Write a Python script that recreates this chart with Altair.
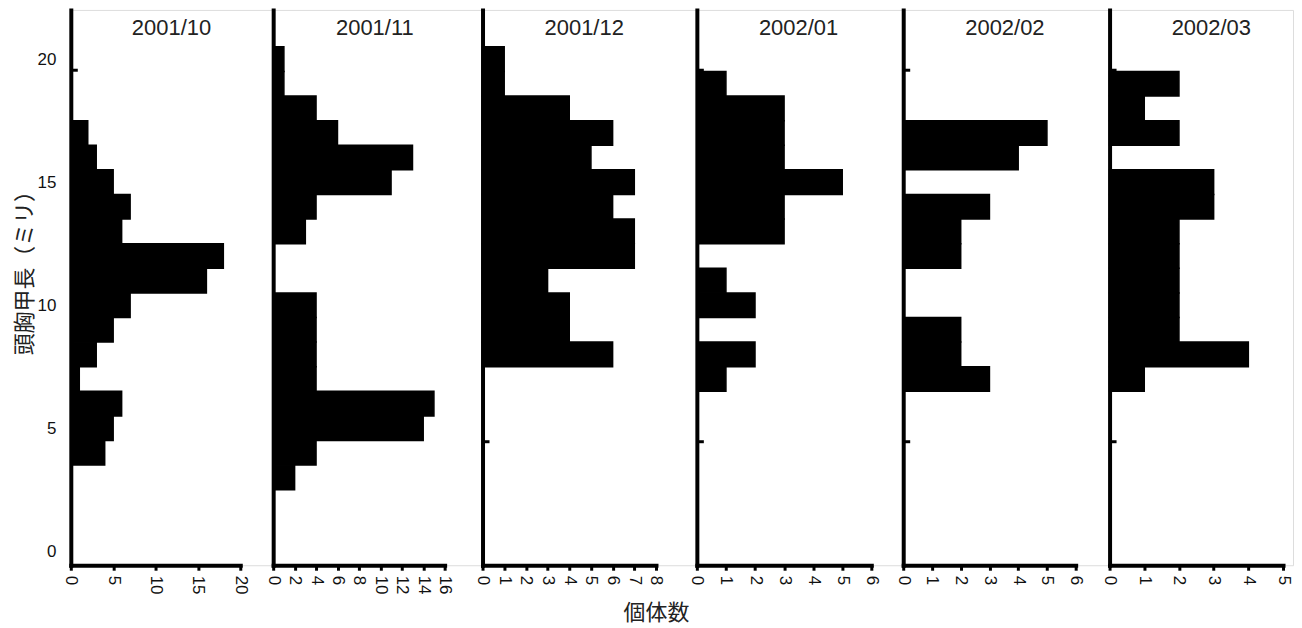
import altair as alt
import pandas as pd

# ---------------- data ----------------
months = ["2001/10", "2001/11", "2001/12", "2002/01", "2002/02", "2002/03"]
sizes = [20, 19, 18, 17, 16, 15, 14, 13, 12, 11, 10, 9, 8, 7, 6, 5, 4, 3]
count_2001_10 = [0, 0, 0, 2, 3, 5, 7, 6, 18, 16, 7, 5, 3, 1, 6, 5, 4, 0]
count_2001_11 = [1, 1, 4, 6, 13, 11, 4, 3, 0, 0, 4, 4, 4, 4, 15, 14, 4, 2]
count_2001_12 = [1, 1, 4, 6, 5, 7, 6, 7, 7, 3, 4, 4, 6, 0, 0, 0, 0, 0]
count_2002_01 = [0, 1, 3, 3, 3, 5, 3, 3, 0, 1, 2, 0, 2, 1, 0, 0, 0, 0]
count_2002_02 = [0, 0, 0, 5, 4, 0, 3, 2, 2, 0, 0, 2, 2, 3, 0, 0, 0, 0]
count_2002_03 = [0, 2, 1, 2, 0, 3, 3, 2, 2, 2, 2, 2, 4, 1, 0, 0, 0, 0]
counts = [count_2001_10, count_2001_11, count_2001_12,
          count_2002_01, count_2002_02, count_2002_03]
x_max = [20, 16, 8, 6, 6, 5]
x_step = [5, 2, 1, 1, 1, 1]
y_ticks = [0, 5, 10, 15, 20]
stub_sizes = [19.55, 4.45]
y_title = "頭胸甲長（ミリ）"
x_title = "個体数"

# ---------------- layout / style ----------------
axis_len = [170, 172, 174, 175, 173, 174]
cell_w = [203, 210, 215, 207, 207, 184]
H = 557
NUM_FONT = "Liberation Sans Narrow, Liberation Sans, Arial"
TXT_FONT = "Liberation Sans, Arial"
JP_FONT = "Noto Sans CJK JP"
y_scale = alt.Scale(domain=[-0.57, 22.0], nice=False, zero=False)


def panel(i):
    df = pd.DataFrame({"size": sizes, "count": counts[i]})
    df = df[df["count"] > 0]
    xs = alt.Scale(domain=[0, x_max[i]], range=[0, axis_len[i]], nice=False, zero=True)

    x_axis_kw = dict(
        values=list(range(0, x_max[i] + 1, x_step[i])),
        labelAngle=90, labelAlign="left", labelBaseline="middle",
        labelFont=NUM_FONT, labelFontSize=17, labelColor="#111",
        labelPadding=5, tickSize=5, tickWidth=3, tickColor="black",
        domainWidth=4, domainColor="black", domainCap="square",
        grid=False, labelOverlap=False,
    )
    if i == 3:
        x_axis_kw.update(title=x_title, titleX=-41, titleY=47, titleAlign="center",
                         titleBaseline="middle", titleAngle=0, titleFont=JP_FONT,
                         titleFontSize=22, titleFontWeight="normal", titleColor="#222")
    else:
        x_axis_kw.update(title=None)

    if i == 0:
        y_axis = alt.Axis(values=y_ticks, ticks=False, labelPadding=15,
                          labelFont=NUM_FONT, labelFontSize=17, labelColor="#111",
                          domainWidth=4, domainColor="black", domainCap="square",
                          grid=False, title=y_title, titleX=-46, titleY=258,
                          titleAngle=270, titleAlign="center", titleBaseline="middle",
                          titleFont=JP_FONT, titleFontSize=22, titleFontWeight="normal",
                          titleColor="#222")
    else:
        y_axis = alt.Axis(values=y_ticks, ticks=False, labels=False, title=None,
                          domainWidth=4, domainColor="black", domainCap="square",
                          grid=False)

    bars = alt.Chart(df).transform_calculate(
        lo="datum.size - 0.5", hi="datum.size + 0.5"
    ).mark_bar(fill="black", stroke="black", strokeWidth=1.5,
               strokeOpacity=1, fillOpacity=1, opacity=1).encode(
        x=alt.X("count:Q", scale=xs, axis=alt.Axis(**x_axis_kw)),
        x2=alt.datum(0),
        y=alt.Y("lo:Q", scale=y_scale, axis=y_axis),
        y2="hi:Q",
    )

    stubs = alt.Chart(pd.DataFrame({"s": stub_sizes})).mark_rule(
        color="black", strokeWidth=3
    ).encode(
        y=alt.Y("s:Q", scale=y_scale),
        x=alt.value(0),
        x2=alt.value(7),
    )

    title = alt.Chart(pd.DataFrame({"m": [months[i]]})).mark_text(
        font=TXT_FONT, fontSize=22, color="#222", align="center", baseline="alphabetic"
    ).encode(
        text="m:N",
        x=alt.value(101 if i == 0 else 102),
        y=alt.value(25),
    )

    return alt.layer(bars, stubs, title).properties(width=cell_w[i], height=H)


chart = alt.hconcat(*[panel(i) for i in range(6)], spacing=0, bounds="flush").properties(
    padding={"left": 5, "top": 0, "right": 0, "bottom": 0}
).configure_view(stroke=None).configure(background="white")

chart.save("out.html", embed_options={"renderer": "svg", "actions": False})
